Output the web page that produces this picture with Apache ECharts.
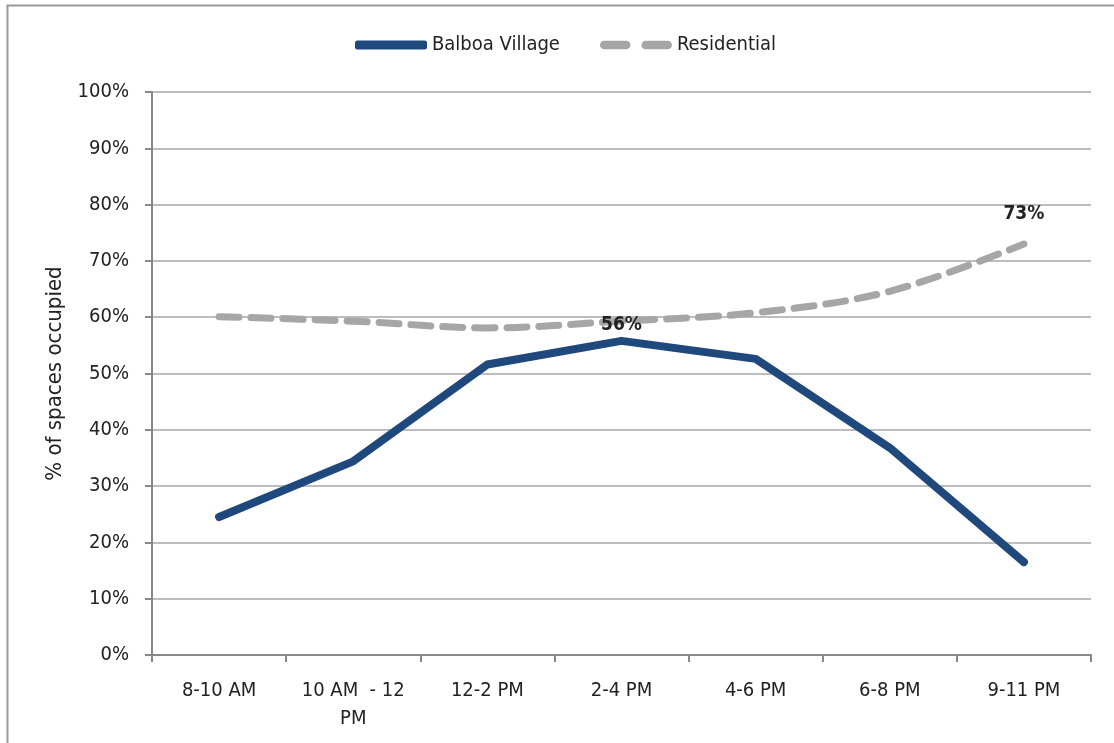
<!DOCTYPE html>
<html>
<head>
<meta charset="utf-8">
<script src="https://cdn.jsdelivr.net/npm/echarts@6/dist/echarts.min.js"></script>
<style>
  html, body { margin: 0; padding: 0; background: #fff; }
  #chart { width: 1114px; height: 743px; }
</style>
</head>
<body>
<div id="chart"></div>
<script>
// time slots on the x axis
const categories = ['8-10 AM', '10 AM  - 12\nPM', '12-2 PM', '2-4 PM', '4-6 PM', '6-8 PM', '9-11 PM']
const balboaVillage = [24.5, 34.4, 51.6, 55.8, 52.6, 36.8, 16.5]
const residential = [60.1, 59.3, 58.1, 59.3, 60.8, 64.6, 73.0]
const yTicks = [0, 10, 20, 30, 40, 50, 60, 70, 80, 90, 100]

const font = '"Liberation Sans Narrow", "Arial Narrow", "DejaVu Sans Condensed", "Liberation Sans", sans-serif'

// only one point per line carries a value label
function withLabel(values, idx, distance) {
  return values.map((v, i) => {
    if (i !== idx) return v
    return {
      value: v,
      label: {
        show: true,
        position: 'top',
        distance: distance,
        formatter: (p) => Math.round(p.value) + '%',
        fontFamily: font,
        fontSize: 19,
        fontWeight: 'bold',
        color: '#222'
      }
    }
  })
}

const chart = echarts.init(document.getElementById('chart'))
chart.setOption({
  animation: false,
  graphic: [{
    type: 'rect',
    shape: { x: 7.5, y: 5.5, width: 1120, height: 740 },
    style: { fill: 'none', stroke: '#999', lineWidth: 2 },
    silent: true
  }],
  legend: {
    top: 30,
    left: 350,
    itemWidth: 72,
    itemHeight: 9,
    itemGap: 40,
    textStyle: { fontFamily: font, fontSize: 20, color: '#222' },
    data: [
      { name: 'Balboa Village', icon: 'roundRect', itemStyle: { color: '#1f497d' } },
      {
        name: 'Residential',
        icon: 'path://M4,0h20a4,4 0 0 1 0,8h-20a4,4 0 0 1 0,-8z M42,0h20a4,4 0 0 1 0,8h-20a4,4 0 0 1 0,-8z',
        itemStyle: { color: '#a6a6a6' }
      }
    ]
  },
  grid: { left: 152, right: 23, top: 92, bottom: 88 },
  xAxis: {
    type: 'category',
    data: categories,
    boundaryGap: true,
    axisLine: { lineStyle: { color: '#888', width: 2 } },
    axisTick: { show: true, length: 7, lineStyle: { color: '#888', width: 2 } },
    axisLabel: { fontFamily: font, fontSize: 20, color: '#222', margin: 22, lineHeight: 28 }
  },
  yAxis: {
    type: 'value',
    min: 0,
    max: 100,
    interval: 10,
    name: '% of spaces occupied',
    nameLocation: 'middle',
    nameGap: 85,
    nameTextStyle: { fontFamily: font, fontSize: 22, color: '#222' },
    axisLine: { show: true, lineStyle: { color: '#888', width: 2 } },
    axisTick: { show: true, length: 7, lineStyle: { color: '#888', width: 2 } },
    axisLabel: {
      fontFamily: font, fontSize: 20, color: '#222', margin: 23,
      formatter: (v) => yTicks.includes(v) ? v + '%' : ''
    },
    splitLine: { lineStyle: { color: '#bdbdbd', width: 2 } }
  },
  series: [
    {
      name: 'Balboa Village',
      type: 'line',
      data: withLabel(balboaVillage, 3, 6),
      showSymbol: true,
      symbol: 'circle',
      symbolSize: 0,
      color: '#1f497d',
      lineStyle: { color: '#1f497d', width: 8, cap: 'round', join: 'round' },
      z: 3
    },
    {
      name: 'Residential',
      type: 'line',
      data: withLabel(residential, 6, 20),
      smooth: 0.35,
      showSymbol: true,
      symbol: 'circle',
      symbolSize: 0,
      color: '#a6a6a6',
      lineStyle: { color: '#a6a6a6', width: 7, type: [20, 12], cap: 'round' },
      z: 2
    }
  ]
})
</script>
</body>
</html>
